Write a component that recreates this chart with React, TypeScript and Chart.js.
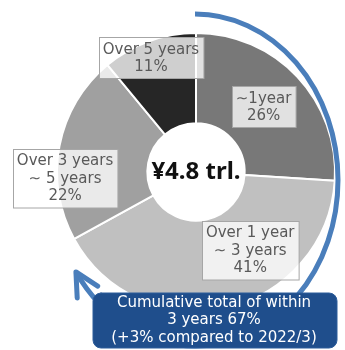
import React, { useEffect, useRef } from "react";
import { Chart, registerables } from "chart.js";

Chart.register(...registerables);

const categories = ["~1year", "Over 1 year ~ 3 years", "Over 3 years ~ 5 years", "Over 5 years"];
const shares = [26, 41, 22, 11];
const labelLines = [
  ["\u223C1year", "26%"],
  ["Over 1 year", "\u223C 3 years", "41%"],
  ["Over 3 years", "\u223C 5 years", "22%"],
  ["Over 5 years", "11%"],
];
const centerLabel = "\u00A54.8 trl.";
const cumulativeShare = 67;
const calloutLines = ["Cumulative total of within", "3 years 67%", "(+3% compared to 2022/3)"];

const segmentColors = ["#787878", "#c0c0c0", "#a0a0a0", "#262626"];
// label box centers as fractions of outer radius, relative to pie center
const labelAnchors = [
  [0.486, -0.471],
  [0.39, 0.561],
  [-0.942, 0.043],
  [-0.324, -0.824],
];

const FONT = "'DejaVu Sans', Verdana, sans-serif";

const overlayPlugin = {
  id: "overlay",
  afterDraw(chart: any) {
    const ctx = chart.ctx as CanvasRenderingContext2D;
    const meta = chart.getDatasetMeta(0);
    const arc0 = meta.data[0] as any;
    const cx = arc0.x;
    const cy = arc0.y;
    const R = arc0.outerRadius;

    // label boxes
    ctx.save();
    ctx.font = `15px ${FONT}`;
    ctx.textAlign = "center";
    ctx.textBaseline = "middle";
    labelLines.forEach((lines, i) => {
      const [fx, fy] = labelAnchors[i];
      const bx = cx + fx * R;
      const by = cy + fy * R;
      const lh = 17.5;
      let w = 0;
      lines.forEach((l) => (w = Math.max(w, ctx.measureText(l).width)));
      w += 8;
      const h = lines.length * lh + 6;
      const x0 = Math.round(bx - w / 2) + 0.5;
      const y0 = Math.round(by - h / 2) + 0.5;
      ctx.fillStyle = "rgba(255,255,255,0.78)";
      ctx.fillRect(x0, y0, w, h);
      ctx.strokeStyle = "#a6a6a6";
      ctx.lineWidth = 1;
      ctx.strokeRect(x0, y0, w, h);
      ctx.fillStyle = "#595959";
      lines.forEach((l, k) => {
        ctx.fillText(l, bx, by - ((lines.length - 1) * lh) / 2 + k * lh + 1);
      });
    });

    // center label
    ctx.font = `bold 24px 'Noto Sans', ${FONT}`;
    ctx.fillStyle = "#111111";
    ctx.fillText(centerLabel, cx, cy);

    // cumulative arc with arrow (elliptical)
    const total = shares.reduce((a, b) => a + b, 0);
    const ex = cx - 1;
    const ey = cy + 8;
    const rx = R + 4;
    const ry = R + 27;
    const start = -Math.PI / 2;
    const sweep = (cumulativeShare / total) * Math.PI * 2 * 0.98;
    const end = start + sweep;
    ctx.strokeStyle = "#4a7ebb";
    ctx.lineWidth = 5;
    ctx.lineCap = "butt";
    ctx.beginPath();
    ctx.ellipse(ex, ey, rx, ry, 0, start, end);
    ctx.stroke();
    const tx = ex + rx * Math.cos(end);
    const ty = ey + ry * Math.sin(end);
    const back = Math.atan2(-ry * Math.cos(end), rx * Math.sin(end));
    const spread = (27 * Math.PI) / 180;
    const len = 26;
    ctx.lineCap = "round";
    ctx.lineJoin = "round";
    ctx.beginPath();
    ctx.moveTo(tx + len * Math.cos(back + spread), ty + len * Math.sin(back + spread));
    ctx.lineTo(tx, ty);
    ctx.lineTo(tx + len * Math.cos(back - spread), ty + len * Math.sin(back - spread));
    ctx.stroke();

    // callout box
    const bx0 = 93, by0 = 293, bw = 244, bh = 55, rr = 8;
    ctx.beginPath();
    ctx.moveTo(bx0 + rr, by0);
    ctx.arcTo(bx0 + bw, by0, bx0 + bw, by0 + bh, rr);
    ctx.arcTo(bx0 + bw, by0 + bh, bx0, by0 + bh, rr);
    ctx.arcTo(bx0, by0 + bh, bx0, by0, rr);
    ctx.arcTo(bx0, by0, bx0 + bw, by0, rr);
    ctx.closePath();
    ctx.fillStyle = "#1f4e8c";
    ctx.fill();
    ctx.strokeStyle = "#2c5c9a";
    ctx.lineWidth = 1;
    ctx.stroke();
    ctx.font = `15px ${FONT}`;
    ctx.fillStyle = "#ffffff";
    calloutLines.forEach((l, k) => {
      ctx.fillText(l, bx0 + bw / 2 - 1, by0 + 10 + k * 17.5);
    });
    ctx.restore();
  },
};

export default function App() {
  const ref = useRef<HTMLCanvasElement | null>(null);
  useEffect(() => {
    if (!ref.current) return;
    const chart = new Chart(ref.current, {
      type: "doughnut",
      data: {
        labels: categories,
        datasets: [
          {
            data: shares,
            backgroundColor: segmentColors,
            borderColor: "#ffffff",
            borderWidth: 2,
          },
        ],
      },
      options: {
        responsive: false,
        animation: false,
        cutout: "35%",
        layout: { padding: { left: 56, right: 9, top: 32, bottom: 38 } },
        plugins: { legend: { display: false }, tooltip: { enabled: false } },
      },
      plugins: [overlayPlugin],
    });
    return () => chart.destroy();
  }, []);
  return (
    <div style={{ position: "fixed", left: 0, top: 0, width: 345, height: 350, background: "#fff" }}>
      <canvas ref={ref} width={345} height={350} />
    </div>
  );
}
